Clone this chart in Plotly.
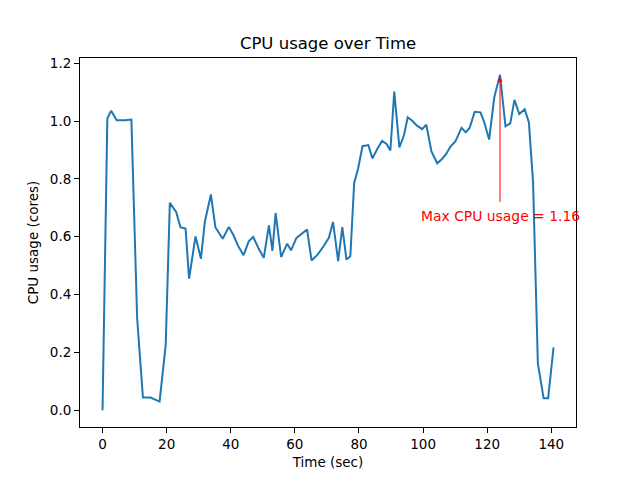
import plotly.graph_objects as go

time_sec = [0, 1.5, 2.7, 4.4, 7.2, 9.0, 10.8, 12.6, 15.0, 17.8, 19.7, 21.0, 23.0, 24.3, 25.9,
            27.0, 29.0, 30.7, 31.9, 33.8, 35.2, 37.5, 39.4, 40.9, 42.2, 44.0, 45.6, 47.0, 48.7,
            50.3, 51.9, 53.0, 54.0, 55.7, 57.6, 58.8, 60.5, 61.9, 63.8, 65.2, 67.1, 69.0, 70.6,
            71.9, 73.5, 74.8, 76.1, 77.3, 78.5, 79.7, 81.1, 82.9, 84.2, 85.7, 87.2, 88.6, 89.8,
            91.0, 92.6, 94.0, 95.2, 96.6, 98.1, 99.7, 101.0, 102.6, 104.4, 105.9, 107.2, 108.5,
            110.1, 112.0, 113.3, 114.5, 116.1, 117.9, 119.1, 120.6, 122.2, 124.0, 125.7, 127.2,
            128.5, 130.0, 131.7, 133.0, 134.3, 135.8, 137.6, 139.0, 140.7]
cpu_cores = [0.0, 1.009, 1.036, 1.003, 1.003, 1.005, 0.317, 0.044, 0.044, 0.030, 0.225, 0.717,
             0.685, 0.633, 0.628, 0.455, 0.601, 0.524, 0.651, 0.746, 0.633, 0.593, 0.634, 0.604,
             0.570, 0.536, 0.584, 0.599, 0.559, 0.527, 0.639, 0.551, 0.682, 0.530, 0.576, 0.553,
             0.596, 0.607, 0.625, 0.518, 0.538, 0.568, 0.596, 0.651, 0.516, 0.633, 0.521, 0.532,
             0.786, 0.834, 0.913, 0.917, 0.871, 0.903, 0.931, 0.921, 0.898, 1.102, 0.909, 0.949,
             1.013, 1.001, 0.984, 0.972, 0.987, 0.895, 0.854, 0.869, 0.886, 0.911, 0.930, 0.977,
             0.961, 0.976, 1.032, 1.030, 0.995, 0.936, 1.082, 1.160, 0.982, 0.992, 1.073, 1.024,
             1.041, 0.995, 0.789, 0.162, 0.041, 0.041, 0.217]

max_val = max(cpu_cores)
max_t = time_sec[cpu_cores.index(max_val)]
x_ticks = [0, 20, 40, 60, 80, 100, 120, 140]
y_ticks = [0.0, 0.2, 0.4, 0.6, 0.8, 1.0, 1.2]

fig = go.Figure()
fig.add_trace(go.Scatter(x=time_sec, y=cpu_cores, mode="lines",
                         line=dict(color="#1f77b4", width=2), showlegend=False))

fig.add_annotation(x=max_t, y=max_val, ax=max_t, ay=0.715, axref="x", ayref="y",
                   text="", showarrow=True, arrowhead=2, arrowsize=1, arrowwidth=1,
                   arrowcolor="red", standoff=2)
fig.add_annotation(x=max_t, y=0.672, text=f"Max CPU usage = {max_val:.2f}", showarrow=False,
                   font=dict(color="red", size=13.9, family="DejaVu Sans"),
                   xanchor="center", yanchor="middle")

axis_common = dict(showline=True, linecolor="black", linewidth=1, mirror=True,
                   ticks="outside", ticklen=5, tickcolor="black", showgrid=False,
                   zeroline=False, tickfont=dict(size=13.5, color="black"))
fig.update_xaxes(range=[-7.03, 147.7], tickvals=x_ticks,
                 title=dict(text="Time (sec)", font=dict(size=13.5, color="black"), standoff=6),
                 **axis_common)
fig.update_yaxes(range=[-0.058, 1.218], tickvals=y_ticks, tickformat=".1f",
                 title=dict(text="CPU usage (cores)", font=dict(size=13.5, color="black"), standoff=8),
                 **axis_common)

fig.update_layout(
    width=640, height=480,
    margin=dict(l=72, r=72, t=50, b=61, autoexpand=False),
    plot_bgcolor="white", paper_bgcolor="white",
    font=dict(family="DejaVu Sans", color="black"),
    title=dict(text="CPU usage over Time", x=(328 - 8) / 640, xanchor="center", y=1 - 35 / 480,
               yanchor="middle", font=dict(size=16.5, color="black")),
)

fig.write_html("out.html")
